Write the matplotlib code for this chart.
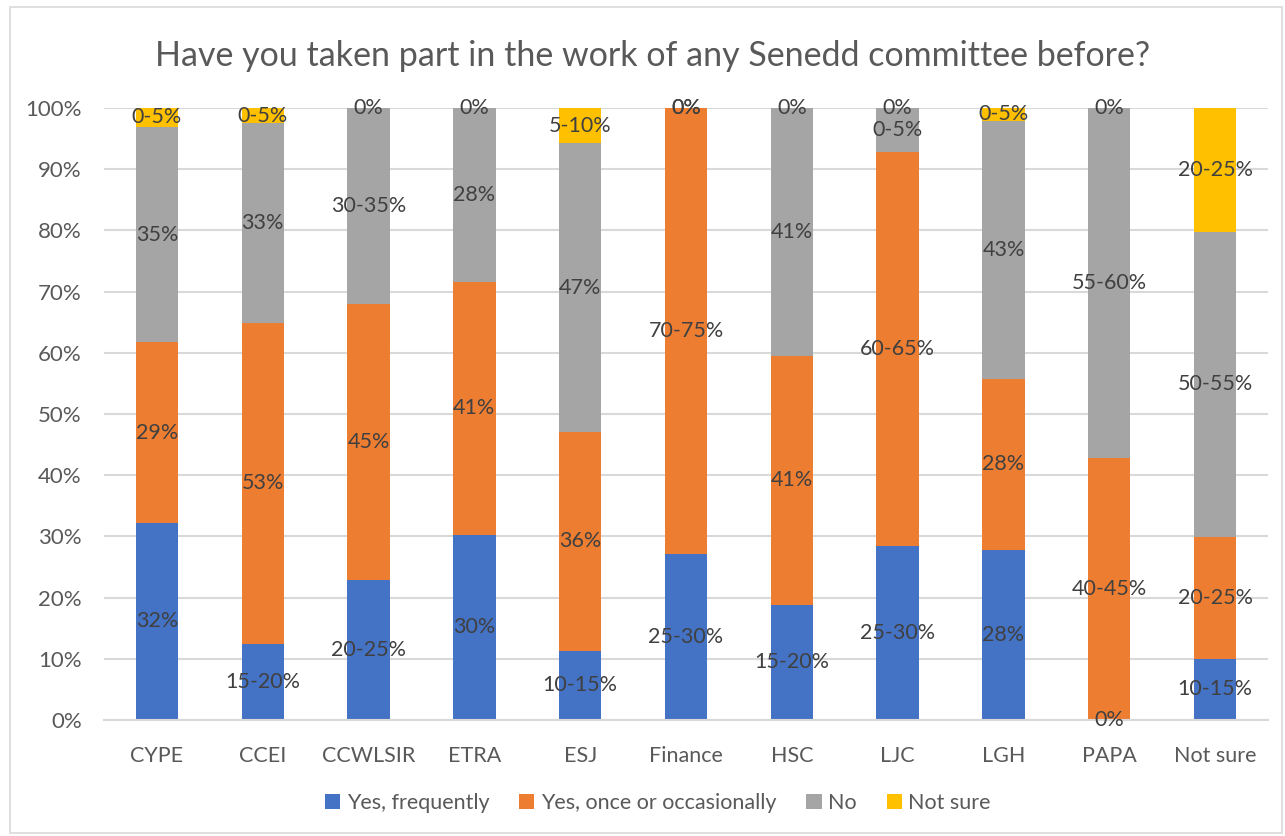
import matplotlib
matplotlib.use('Agg')
import matplotlib.pyplot as plt
from matplotlib.patches import Rectangle
import numpy as np

plt.rcParams['font.family'] = ['Lato', 'DejaVu Sans']

committees = ['CYPE', 'CCEI', 'CCWLSIR', 'ETRA', 'ESJ', 'Finance', 'HSC', 'LJC', 'LGH', 'PAPA', 'Not sure']

# shares (percent of each bar)
yes_frequently = [32.2, 12.5, 22.8, 30.3, 11.3, 27.2, 18.8, 28.4, 27.8, 0.0, 10.0]
yes_occasionally = [29.5, 52.4, 45.2, 41.3, 35.8, 72.8, 40.7, 64.4, 27.9, 42.8, 19.9]
no = [35.2, 32.6, 32.0, 28.4, 47.1, 0.0, 40.5, 7.2, 42.2, 57.2, 49.9]
not_sure = [3.1, 2.5, 0.0, 0.0, 5.8, 0.0, 0.0, 0.0, 2.1, 0.0, 20.2]

# the labels shown on the bars
lab_frequently = ['32%', '15-20%', '20-25%', '30%', '10-15%', '25-30%', '15-20%', '25-30%', '28%', '0%', '10-15%']
lab_occasionally = ['29%', '53%', '45%', '41%', '36%', '70-75%', '41%', '60-65%', '28%', '40-45%', '20-25%']
lab_no = ['35%', '33%', '30-35%', '28%', '47%', '0%', '41%', '0-5%', '43%', '55-60%', '50-55%']
lab_not_sure = ['0-5%', '0-5%', '0%', '0%', '5-10%', '0%', '0%', '0%', '0-5%', '0%', '20-25%']

series = [
    ('Yes, frequently', yes_frequently, lab_frequently, '#4472C4'),
    ('Yes, once or occasionally', yes_occasionally, lab_occasionally, '#ED7D31'),
    ('No', no, lab_no, '#A5A5A5'),
    ('Not sure', not_sure, lab_not_sure, '#FFC000'),
]

fig = plt.figure(figsize=(12.85, 8.36), dpi=100)
ax = fig.add_axes([104/1285, 1 - 720/836, 1164/1285, 612/836])

x = np.arange(len(committees))
bottom = np.zeros(len(committees))
for name, vals, labs, col in series:
    v = np.array(vals) / 100
    ax.bar(x, v, 0.4, bottom=bottom, color=col, label=name, zorder=2)
    for i in range(len(x)):
        ax.text(x[i], bottom[i] + v[i] / 2, labs[i], ha='center', va='center',
                fontsize=15.5, color='#404040', zorder=3)
    bottom += v

ax.set_xlim(-0.5, len(committees) - 0.5)
ax.set_ylim(0, 1)
ax.set_yticks(np.arange(0, 1.01, 0.1))
ax.set_yticklabels([f'{int(round(t * 100))}%' for t in np.arange(0, 1.01, 0.1)])
ax.set_xticks(x)
ax.set_xticklabels(committees)
ax.tick_params(axis='both', length=0, labelsize=15.5, labelcolor='#595959')
ax.tick_params(axis='y', labelsize=16, pad=16)
ax.tick_params(axis='x', pad=19)
ax.grid(axis='y', color='#D9D9D9', lw=1.5, zorder=0)
for s in ['top', 'right', 'left']:
    ax.spines[s].set_visible(False)
ax.spines['bottom'].set_color('#D9D9D9')
ax.spines['bottom'].set_linewidth(1.5)

fig.text(0.508, 1 - 56/836, 'Have you taken part in the work of any Senedd committee before?',
         ha='center', va='center', fontsize=24.5, color='#595959')

fig.legend(loc='center', bbox_to_anchor=(0.512, 1 - 803/836), ncol=4, frameon=False,
           fontsize=15.5, handlelength=0.7, handleheight=0.7, handletextpad=0.3,
           columnspacing=1.4, labelcolor='#595959')

fig.patches.append(Rectangle((10/1285, 3/836), 1272/1285, 826/836, transform=fig.transFigure,
                             fill=False, edgecolor='#D9D9D9', lw=1.2))

fig.savefig('out.png', dpi=100)
